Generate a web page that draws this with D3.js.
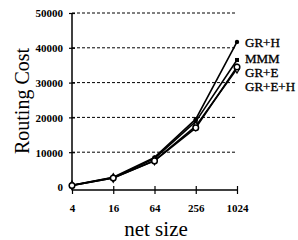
<!DOCTYPE html>
<html>
<head>
<style>
body { margin: 0; background: #fff; }
text { font-family: "Liberation Serif", "Times New Roman", serif; fill: #000; }
</style>
</head>
<body>
<script src="https://cdn.jsdelivr.net/npm/d3@7"></script>
<script>
var netSizes = [4, 16, 64, 256, 1024];
var yTicks = [0, 10000, 20000, 30000, 40000, 50000];
var grH = [500, 2800, 8500, 19500, 41700];
var mmm = [500, 2700, 8200, 18800, 36500];
var grE = [450, 2600, 7500, 17000, 34500];
var grEH = [450, 2600, 7600, 17500, 34000];
var seriesNames = ["GR+H", "MMM", "GR+E", "GR+E+H"];

var svg = d3.select("body").append("svg").attr("width", 298).attr("height", 240);

var x = d3.scalePoint().domain(netSizes).range([72, 237]);
var y = d3.scaleLinear().domain([0, 50000]).range([187, 13]);

// grid lines
svg.selectAll(".grid").data(yTicks.slice(1)).enter().append("line")
    .attr("x1", 72).attr("x2", 236)
    .attr("y1", function (d) { return y(d); }).attr("y2", function (d) { return y(d); })
    .attr("stroke", "#000").attr("stroke-width", 1).attr("stroke-dasharray", "3,2");

// y axis
var yAxis = d3.axisLeft(y).tickValues(yTicks).tickSize(3).tickPadding(6).tickFormat(d3.format("d"));
var gy = svg.append("g").attr("transform", "translate(72,0)").call(yAxis);
gy.select(".domain").attr("d", "M0," + y(0) + "V" + y(50000)).attr("stroke-width", 1.5);
gy.selectAll(".tick line").attr("x1", -3).attr("x2", 3).attr("stroke-width", 1.2);
gy.selectAll(".tick text").style("font-size", "11px").style("font-weight", "bold")
    .style("font-family", "Liberation Serif, serif").attr("dy", "0.35em");

// x axis
var xAxis = d3.axisBottom(x).tickSize(3).tickPadding(11);
var gx = svg.append("g").attr("transform", "translate(0,190)").call(xAxis);
gx.select(".domain").attr("d", "M72,0H237").attr("stroke-width", 1.5);
gx.selectAll(".tick line").attr("y1", -4).attr("y2", 4).attr("stroke-width", 1.2);
gx.selectAll(".tick text").style("font-size", "11px").style("font-weight", "bold")
    .style("font-family", "Liberation Serif, serif");

var line = d3.line().x(function (d, i) { return x(netSizes[i]); }).y(function (d) { return y(d); });

var all = [grH, mmm, grE, grEH];
all.forEach(function (s) {
    svg.append("path").attr("d", line(s)).attr("fill", "none")
        .attr("stroke", "#000").attr("stroke-width", 1.6);
});

// markers
svg.selectAll(".mH").data(grH).enter().append("circle")
    .attr("cx", function (d, i) { return x(netSizes[i]); }).attr("cy", function (d) { return y(d); })
    .attr("r", 2.2).attr("fill", "#000");
svg.selectAll(".mM").data(mmm).enter().append("rect")
    .attr("x", function (d, i) { return x(netSizes[i]) - 2; }).attr("y", function (d) { return y(d) - 2; })
    .attr("width", 4).attr("height", 4).attr("fill", "#000");
svg.selectAll(".mEH").data(grEH).enter().append("path")
    .attr("transform", function (d, i) { return "translate(" + x(netSizes[i]) + "," + y(d) + ")"; })
    .attr("d", d3.symbol().type(d3.symbolDiamond).size(22)())
    .attr("fill", "#fff").attr("stroke", "#000").attr("stroke-width", 1.2);
svg.selectAll(".mE").data(grE).enter().append("circle")
    .attr("cx", function (d, i) { return x(netSizes[i]); }).attr("cy", function (d) { return y(d); })
    .attr("r", 2.8).attr("fill", "#fff").attr("stroke", "#000").attr("stroke-width", 1.5);

// series labels
var labelY = [47, 63, 77, 91];
svg.selectAll(".lab").data(seriesNames).enter().append("text")
    .attr("x", 245).attr("y", function (d, i) { return labelY[i]; })
    .style("font-size", "13px").style("stroke", "#000").style("stroke-width", 0.3)
    .text(function (d) { return d; });

// axis titles
svg.append("text").attr("x", 156).attr("y", 236).attr("text-anchor", "middle")
    .style("font-size", "21px").text("net size");
svg.append("text").attr("transform", "translate(29,101) rotate(-90)").attr("text-anchor", "middle")
    .style("font-size", "20px").text("Routing Cost");
</script>
</body>
</html>
